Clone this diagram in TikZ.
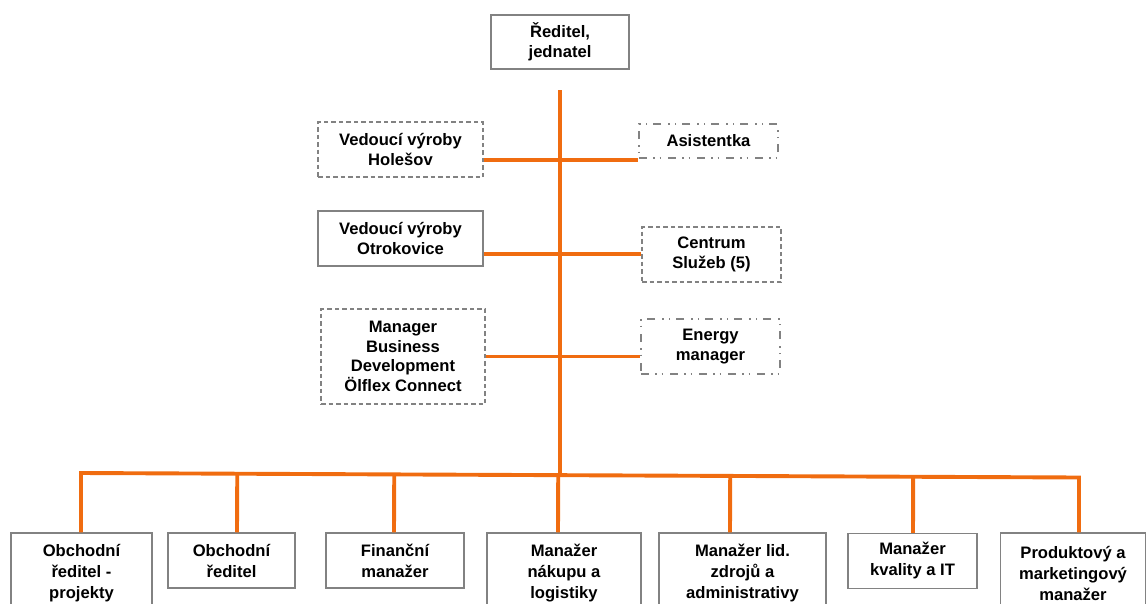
\documentclass[tikz,border=0pt]{standalone}
\usepackage{fontspec}
\setmainfont{Liberation Sans}
\usetikzlibrary{calc}
\definecolor{orgline}{RGB}{240,108,16}
\definecolor{boxgray}{RGB}{130,130,130}
\tikzset{
  orgbox/.style={draw=boxgray, line width=1.1pt, align=center, inner sep=0pt,
    font=\bfseries\fontsize{16.6}{19.5}\selectfont, text=black},
  lowbox/.style={orgbox, font=\bfseries\fontsize{16.6}{21}\selectfont},
  dashbox/.style={orgbox, dash pattern=on 4.5pt off 3pt},
  dotbox/.style={orgbox, dash pattern=on 8pt off 6pt on 1.5pt off 5pt on 1.5pt off 7pt},
  con/.style={draw=orgline, line width=3.9pt}
}
\begin{document}
\begin{tikzpicture}[x=1pt,y=-1pt]
\useasboundingbox (0,0) rectangle (1146,603);
% top
\node[orgbox, minimum width=138pt, minimum height=54pt] (top) at (560,42) {Ředitel,\\jednatel};
% staff
\node[dashbox, minimum width=165pt, minimum height=55pt] (hol) at (400.5,149.5) {Vedoucí výroby\\Holešov};
\node[dotbox, minimum width=139pt, minimum height=34pt] (asi) at (708.5,141) {Asistentka};
\node[orgbox, minimum width=165pt, minimum height=55pt] (otr) at (400.5,238.5) {Vedoucí výroby\\Otrokovice};
\node[dashbox, minimum width=139pt, minimum height=55pt] (cen) at (711.5,254.5) {Centrum\\Služeb (5)};
\node[dashbox, minimum width=164pt, minimum height=95pt] (mbd) at (403,356.5) {Manager\\Business\\Development\\Ölflex Connect};
\node[dotbox, minimum width=139pt, minimum height=55pt] (ene) at (710.5,346.5) {Energy\\manager};
% bottom row
\node[lowbox, minimum width=141pt, minimum height=80pt] (b1) at (81.5,573) {Obchodní\\ředitel -\\projekty};
\node[lowbox, minimum width=127pt, minimum height=55pt] (b2) at (231.5,560.5) {Obchodní\\ředitel};
\node[lowbox, minimum width=138pt, minimum height=55pt] (b3) at (395,560.5) {Finanční\\manažer};
\node[lowbox, minimum width=154pt, minimum height=80pt] (b4) at (564,573) {Manažer\\nákupu a\\logistiky};
\node[lowbox, minimum width=167pt, minimum height=80pt] (b5) at (742.5,573) {Manažer lid.\\zdrojů a\\administrativy};
\node[lowbox, minimum width=129pt, minimum height=55pt] (b6) at (912.5,561) {Manažer\\kvality a IT};
\node[lowbox, minimum width=145pt, minimum height=80pt] (b7) at (1073,573) {Produktový a\\marketingový\\manažer};
% trunk
\coordinate (vt) at (560,90);
\coordinate (hl) at (81,473);
\coordinate (hr) at (1079,477.5);
\coordinate (vb) at ($(hl)!(560,474)!(hr)$);
\draw[con] (vt) -- (vb);
% staff branches
\coordinate (y1) at (560,160);
\coordinate (y2) at (560,254);
\coordinate (y3) at (560,356.5);
\draw[con] (hol.east |- y1) -- (asi.west |- y1);
\draw[con] (otr.east |- y2) -- (cen.west |- y2);
\draw[con] (mbd.east |- y3) -- (ene.west |- y3);
% bottom bar
\draw[con, line join=miter] (b1.north -| hl) -- (hl) -- (hr) -- (b7.north -| hr);
\foreach \b/\x in {b2/237, b3/394, b4/558, b5/730, b6/913}{
  \coordinate (t\b) at (\x,0);
  \draw[con] ($(hl)!(t\b |- \b.north)!(hr)$) -- (t\b |- \b.north);
}
\end{tikzpicture}
\end{document}
